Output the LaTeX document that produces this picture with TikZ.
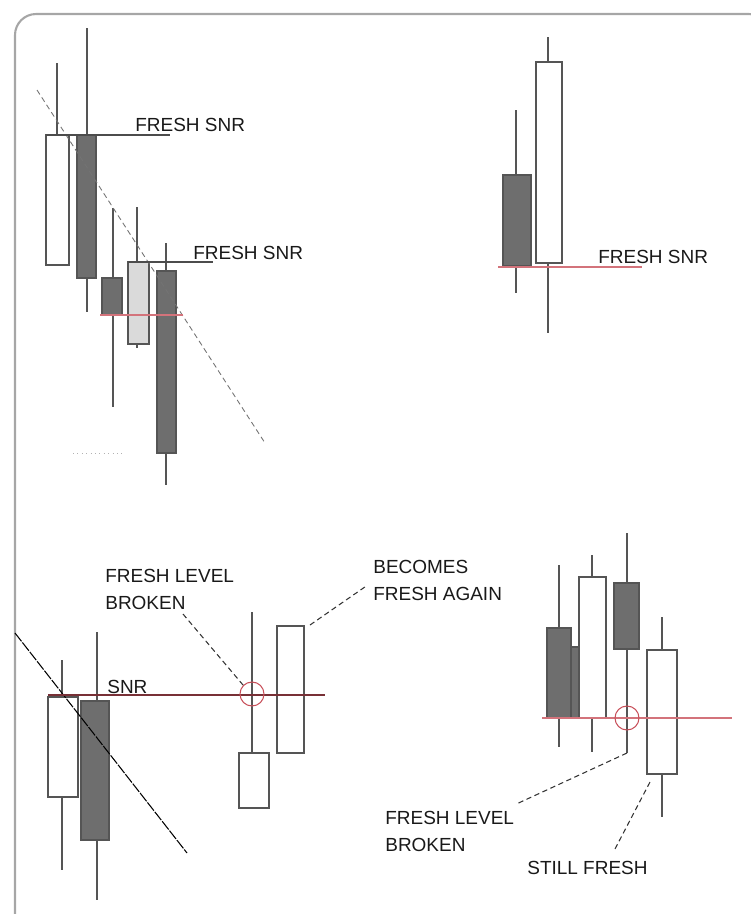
\documentclass[tikz,border=0pt]{standalone}
\usepackage{fontspec}
\setmainfont{Liberation Sans}
\usepackage{tikz}
\usetikzlibrary{positioning, arrows.meta}

\definecolor{bardark}{HTML}{6E6E6E}
\definecolor{barlight}{HTML}{DADADA}
\definecolor{barline}{HTML}{555555}
\definecolor{levelred}{HTML}{C8505A}

\begin{document}
\begin{tikzpicture}[x=0.02cm, y=-0.02cm,
    frame/.style={draw=black!35, line width=1.2pt, rounded corners=12pt},
    wick/.style={draw=barline, line width=0.6pt},
    body/.style={draw=barline, line width=0.6pt},
    level/.style={draw=levelred!80, line width=0.7pt},
    greyline/.style={draw=black!70, line width=0.6pt},
    trend/.style={draw=black!55, line width=0.5pt, densely dashed},
    leader/.style={draw=black!80, line width=0.6pt, densely dashed},
    brk/.style={circle, draw=levelred, line width=0.6pt, minimum size=24*0.02cm, inner sep=0pt},
    lbl/.style={inner sep=0pt, font=\fontsize{10.8}{15.3}\selectfont, text=black!90, align=left}]

    \useasboundingbox (0,0) rectangle (751,914);
    \clip (0,0) rectangle (751,914);

    % Outer frame
    \draw[frame] (15,14) rectangle (770,935);

    % Candles: left/right/top/bottom of body, wick x/top/bottom, fill
    \foreach \xl/\xr/\yt/\yb/\wx/\wt/\wb/\fc in {
        46/69/135/265/57/63/135/white,
        77/96/135/278/87/28/312/bardark,
        102/122/278/315/113/208/407/bardark,
        128/149/262/344/137/207/348/barlight,
        157/176/271/453/166/243/485/bardark,
        503/531/175/266/516/110/293/bardark,
        536/562/62/263/548/37/333/white,
        48/78/697/797/62/660/870/white,
        81/109/701/840/97/632/900/bardark,
        239/269/753/808/252/612/753/white,
        277/304/626/753/290/700/700/white,
        571/585/647/718/578/700/700/bardark,
        547/571/628/718/559/565/747/bardark,
        579/606/577/718/592/555/752/white,
        614/639/583/649/627/533/753/bardark,
        647/677/650/774/662/617/817/white} {
        \draw[wick] (\wx,\wt) -- (\wx,\wb);
        \filldraw[body, fill=\fc] (\xl,\yt) rectangle (\xr,\yb);
    }

    % Trend lines
    \draw[trend] (37,90) -- (265,443);
    \draw[black!30, dotted, line width=0.5pt] (73,453) -- (125,453);
    \draw[draw=black, line width=0.6pt, dashed, dash pattern=on 6pt off 0.8pt] (15,633) -- (187,853);

    % Levels
    \draw[greyline] (46,135) -- (170,135);
    \draw[greyline] (128,262) -- (213,262);
    \draw[level] (100,315) -- (183,315);
    \draw[level] (498,267) -- (642,267);
    \draw[level, draw=levelred!60!black] (48,695) -- (325,695);
    \draw[level] (542,718) -- (732,718);

    % Broken levels
    \node[brk] (brk1) at (252,694) {};
    \node[brk] (brk2) at (627,718) {};

    % Labels
    \node[lbl, anchor=west] (fresh1) at (135,125) {FRESH SNR};
    \node[lbl, anchor=west] (fresh2) at (193,253) {FRESH SNR};
    \node[lbl, anchor=west] (fresh3) at (598,257) {FRESH SNR};
    \node[lbl, anchor=west] (snr) at (107,687) {SNR};
    \node[lbl, anchor=north west] (broken1) at (105,569) {FRESH LEVEL\\BROKEN};
    \node[lbl, anchor=north west] (again) at (373,560) {BECOMES\\FRESH AGAIN};
    \node[lbl, anchor=north west] (broken2) at (385,811) {FRESH LEVEL\\BROKEN};
    \node[lbl, anchor=west] (still) at (527,868) {STILL FRESH};

    % Leaders
    \coordinate (againend) at (310,625);
    \coordinate (brk2end) at (627,753);
    \coordinate (stillend) at (650,782);
    \draw[leader] ([xshift=78*0.02cm, yshift=-4*0.02cm]broken1.south west) -- (brk1.north west);
    \draw[leader] (againend) -- ([xshift=-6*0.02cm, yshift=-5*0.02cm]again.west);
    \draw[leader] (brk2end) -- ([xshift=2*0.02cm, yshift=7*0.02cm]broken2.north east);
    \draw[leader] (stillend) -- ([xshift=26*0.02cm, yshift=9*0.02cm]still.north);
\end{tikzpicture}
\end{document}
